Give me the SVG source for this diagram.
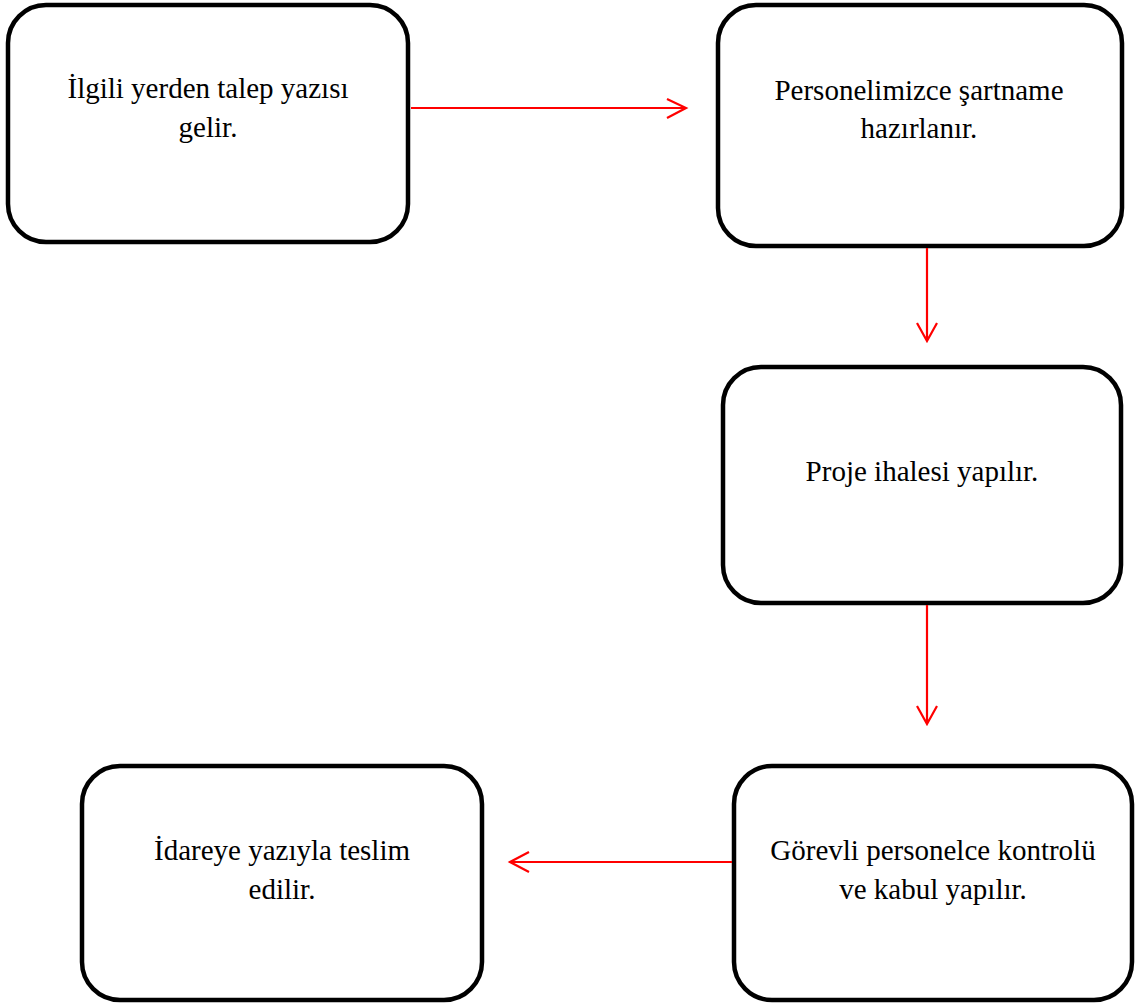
<svg xmlns="http://www.w3.org/2000/svg" width="1135" height="1004" viewBox="0 0 1135 1004">
  <style>
    .box { fill: #ffffff; stroke: #000000; stroke-width: 4.5; }
    .label { font-family: "Liberation Serif", "Times New Roman", serif; font-size: 29px; fill: #000000; text-anchor: middle; }
    .link { fill: none; stroke: #ff0000; stroke-width: 2.2; }
  </style>
  <rect width="1135" height="1004" fill="#ffffff"/>

  <g id="node-talep">
    <rect class="box" x="8" y="5" width="400" height="237" rx="38" ry="38"/>
    <text class="label" x="208" y="98">İlgili yerden talep yazısı</text>
    <text class="label" x="208" y="137">gelir.</text>
  </g>

  <g id="node-sartname">
    <rect class="box" x="718" y="5" width="404" height="241" rx="38" ry="38"/>
    <text class="label" x="919" y="100">Personelimizce şartname</text>
    <text class="label" x="919" y="138">hazırlanır.</text>
  </g>

  <g id="node-ihale">
    <rect class="box" x="723" y="367" width="398" height="236" rx="38" ry="38"/>
    <text class="label" x="922" y="481">Proje ihalesi yapılır.</text>
  </g>

  <g id="node-kabul">
    <rect class="box" x="734" y="766" width="398" height="234" rx="38" ry="38"/>
    <text class="label" x="933" y="860">Görevli personelce kontrolü</text>
    <text class="label" x="933" y="899">ve kabul yapılır.</text>
  </g>

  <g id="node-teslim">
    <rect class="box" x="82" y="766" width="400" height="234" rx="38" ry="38"/>
    <text class="label" x="282" y="860">İdareye yazıyla teslim</text>
    <text class="label" x="282" y="899">edilir.</text>
  </g>

  <g id="connectors">
    <!-- talep -> sartname -->
    <path class="link" d="M411 108 H686 M667 99 L686 108 L667 118"/>
    <!-- sartname -> ihale -->
    <path class="link" d="M927 248 V341 M917 323 L927 341 L937 323"/>
    <!-- ihale -> kabul -->
    <path class="link" d="M927 605 V724 M917 706 L927 724 L937 706"/>
    <!-- kabul -> teslim -->
    <path class="link" d="M732 862 H510 M529 852 L510 862 L529 872"/>
  </g>
</svg>
